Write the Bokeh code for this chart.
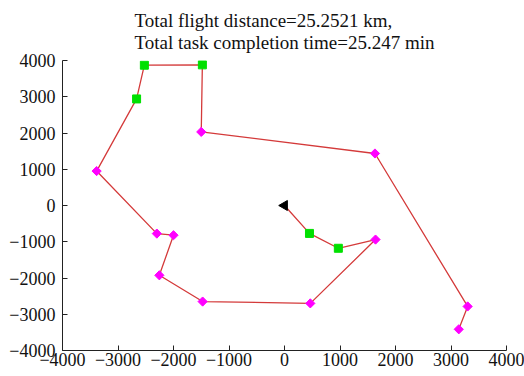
import numpy as np
from bokeh.plotting import figure
from bokeh.models import FixedTicker, Range1d
from bokeh.embed import file_html
from bokeh.resources import INLINE

title_lines = ["Total flight distance=25.2521 km,", "Total task completion time=25.247 min"]
ticks = [-4000, -3000, -2000, -1000, 0, 1000, 2000, 3000, 4000]

route_x = [0, 450, 970, 1640, 465, -1475, -2255, -2000, -2300, -3385, -2665, -2525, -1480, -1500, 1630, 3300, 3140]
route_y = [0, -770, -1180, -940, -2700, -2650, -1925, -820, -775, 950, 2940, 3870, 3880, 2030, 1435, -2785, -3415]
kind = ["start", "green", "green", "magenta", "magenta", "magenta", "magenta", "magenta", "magenta",
        "magenta", "green", "green", "green", "magenta", "magenta", "magenta", "magenta"]

p = figure(width=524, height=376, output_backend="svg", toolbar_location=None,
           x_range=Range1d(-4000, 4000), y_range=Range1d(-4000, 4000),
           min_border_left=62, min_border_right=18, min_border_top=60, min_border_bottom=26,
           title="\n".join(title_lines))
p.frame_width = 444
p.frame_height = 290
p.background_fill_color = "white"
p.border_fill_color = "white"
p.outline_line_color = None
p.grid.visible = False

p.title.align = "center"
p.title.text_font = "Liberation Serif"
p.title.text_font_size = "19px"
p.title.text_font_style = "normal"
p.title.text_color = "#111111"
p.title.text_line_height = 1.05
p.title.standoff = 14

labels = {t: (str(t).replace("-", "\u2212")) for t in ticks}
for ax in (p.xaxis[0], p.yaxis[0]):
    ax.ticker = FixedTicker(ticks=ticks)
    ax.major_label_overrides = labels
    ax.major_label_text_font = "Liberation Serif"
    ax.major_label_text_font_size = "18px"
    ax.major_label_text_color = "#111111"
    ax.major_tick_in = 5
    ax.major_tick_out = 0
    ax.minor_tick_line_color = None
    ax.axis_line_color = "#222222"
    ax.major_tick_line_color = "#222222"
p.xaxis.major_label_standoff = 2
p.yaxis.major_label_standoff = 7

p.line(route_x, route_y, line_color="#d43a3a", line_width=1.3)

gx = [x for x, k in zip(route_x, kind) if k == "green"]
gy = [y for y, k in zip(route_y, kind) if k == "green"]
mx = [x for x, k in zip(route_x, kind) if k == "magenta"]
my = [y for y, k in zip(route_y, kind) if k == "magenta"]
sx = [x for x, k in zip(route_x, kind) if k == "start"]
sy = [y for y, k in zip(route_y, kind) if k == "start"]

p.scatter(gx, gy, marker="square", size=8, fill_color="#00e000", line_color="#00e000")
p.scatter(mx, my, marker="square", size=6.5, angle=np.pi / 4, fill_color="#ff00ff", line_color="#ff00ff")
p.scatter(sx, sy, marker="triangle", size=10, angle=np.pi / 2, fill_color="black", line_color="black")

open("out.html", "w").write(file_html(p, INLINE))
